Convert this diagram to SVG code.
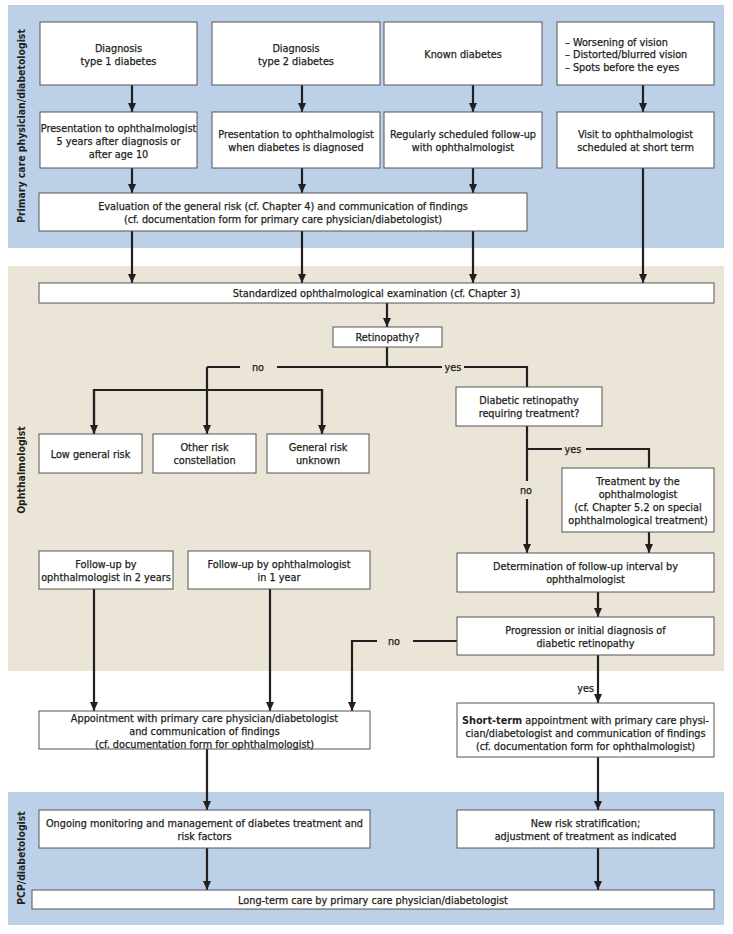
<svg xmlns="http://www.w3.org/2000/svg" width="733" height="934" viewBox="0 0 733 934">
<style>
text{font-family:"DejaVu Sans Condensed","DejaVu Sans",sans-serif;font-stretch:condensed;font-size:10.8px;fill:#231f20;stroke:#231f20;stroke-width:0.25px;text-anchor:middle}
.lane{font-weight:bold;font-size:10.4px;stroke-width:0}
.box{fill:#fff;stroke:#555;stroke-width:1}
.c{fill:none;stroke:#231f20;stroke-width:2.2}
.a{marker-end:url(#ah)}
.l{text-anchor:start}
</style>
<defs>
<marker id="ah" markerUnits="userSpaceOnUse" markerWidth="10" markerHeight="10" refX="9" refY="4" orient="auto">
<path d="M0,0 L9,4 L0,8 z" fill="#231f20"/>
</marker>
</defs>
<rect x="8" y="5" width="716" height="243" fill="#bcd0e8"/>
<rect x="8" y="266" width="716" height="405" fill="#ebe5d8"/>
<rect x="8" y="792" width="716" height="133" fill="#bcd0e8"/>
<text class="lane" transform="translate(25,126) rotate(-90)">Primary care physician/diabetologist</text>
<text class="lane" transform="translate(25,470) rotate(-90)">Ophthalmologist</text>
<text class="lane" transform="translate(25,858) rotate(-90)">PCP/diabetologist</text>

<g id="connectors">
<path class="c a" d="M132,85V112"/>
<path class="c a" d="M302,85V112"/>
<path class="c a" d="M473,85V112"/>
<path class="c a" d="M643,85V112"/>
<path class="c a" d="M132,168V193"/>
<path class="c a" d="M302,168V193"/>
<path class="c a" d="M473,168V193"/>
<path class="c a" d="M132,231V283"/>
<path class="c a" d="M302,231V283"/>
<path class="c a" d="M473,231V283"/>
<path class="c a" d="M643,168V283"/>
<path class="c a" d="M387,303V327"/>
<path class="c" d="M387,347V367"/>
<path class="c" d="M240,367H207"/>
<path class="c" d="M277,367H442"/>
<path class="c" d="M464,367H527V387"/>
<path class="c a" d="M207,367V434"/>
<path class="c" d="M94,434V390H322V434"/>
<path class="c a" d="M94,390V434"/>
<path class="c a" d="M322,390V434"/>
<path class="c" d="M527,426V481"/>
<path class="c a" d="M527,499V553"/>
<path class="c" d="M527,449H562"/>
<path class="c" d="M586,449H649V468"/>
<path class="c a" d="M649,532V553"/>
<path class="c a" d="M598,592V617"/>
<path class="c" d="M457,641H413"/>
<path class="c a" d="M377,641H352V711"/>
<path class="c a" d="M598,655V703"/>
<path class="c a" d="M94,589V711"/>
<path class="c a" d="M270,589V711"/>
<path class="c a" d="M207,749V810"/>
<path class="c a" d="M598,757V810"/>
<path class="c a" d="M207,848V890"/>
<path class="c a" d="M598,848V890"/>
<text x="258" y="371">no</text>
<text x="453" y="371">yes</text>
<text x="573" y="453">yes</text>
<text x="526" y="494">no</text>
<text x="394" y="645">no</text>
<text x="594" y="692" style="text-anchor:end">yes</text>
</g>

<g id="dx1"><rect class="box" x="40" y="22" width="157" height="63"/>
<text x="118.5" y="52">Diagnosis</text><text x="118.5" y="65">type 1 diabetes</text></g>
<g id="dx2"><rect class="box" x="212" y="22" width="168" height="63"/>
<text x="296" y="52">Diagnosis</text><text x="296" y="65">type 2 diabetes</text></g>
<g id="known"><rect class="box" x="384" y="22" width="158" height="63"/>
<text x="463" y="58">Known diabetes</text></g>
<g id="symptoms"><rect class="box" x="557" y="22" width="157" height="63"/>
<text class="l" x="565" y="45.5">– Worsening of vision</text><text class="l" x="565" y="58">– Distorted/blurred vision</text><text class="l" x="565" y="70.5">– Spots before the eyes</text></g>

<g id="pres1"><rect class="box" x="40" y="112" width="157" height="56"/>
<text x="118.5" y="132">Presentation to ophthalmologist</text><text x="118.5" y="145">5 years after diagnosis or</text><text x="118.5" y="158">after age 10</text></g>
<g id="pres2"><rect class="box" x="212" y="112" width="168" height="56"/>
<text x="296" y="138">Presentation to ophthalmologist</text><text x="296" y="151">when diabetes is diagnosed</text></g>
<g id="regular"><rect class="box" x="384" y="112" width="158" height="56"/>
<text x="463" y="138">Regularly scheduled follow-up</text><text x="463" y="151">with ophthalmologist</text></g>
<g id="visit"><rect class="box" x="557" y="112" width="157" height="56"/>
<text x="635.5" y="138">Visit to ophthalmologist</text><text x="635.5" y="151">scheduled at short term</text></g>

<g id="evaluation"><rect class="box" x="39" y="193" width="488" height="38"/>
<text x="283" y="209.5">Evaluation of the general risk (cf. Chapter 4) and communication of findings</text><text x="283" y="222.5">(cf. documentation form for primary care physician/diabetologist)</text></g>

<g id="exam"><rect class="box" x="39" y="283" width="675" height="20"/>
<text x="376.5" y="297">Standardized ophthalmological examination (cf. Chapter 3)</text></g>
<g id="retino"><rect class="box" x="333" y="327" width="109" height="20"/>
<text x="387.5" y="341">Retinopathy?</text></g>

<g id="lowrisk"><rect class="box" x="39" y="434" width="103" height="39"/>
<text x="90.5" y="457.5">Low general risk</text></g>
<g id="otherrisk"><rect class="box" x="153" y="434" width="103" height="39"/>
<text x="204.5" y="451">Other risk</text><text x="204.5" y="464">constellation</text></g>
<g id="unknownrisk"><rect class="box" x="267" y="434" width="102" height="39"/>
<text x="318" y="451">General risk</text><text x="318" y="464">unknown</text></g>

<g id="drtreat"><rect class="box" x="456" y="387" width="146" height="39"/>
<text x="529" y="404">Diabetic retinopathy</text><text x="529" y="417">requiring treatment?</text></g>
<g id="treatment"><rect class="box" x="562" y="468" width="152" height="64"/>
<text x="638" y="484.5">Treatment by the</text><text x="638" y="497.5">ophthalmologist</text><text x="638" y="510.5">(cf. Chapter 5.2 on special</text><text x="638" y="523.5">ophthalmological treatment)</text></g>
<g id="determination"><rect class="box" x="457" y="553" width="257" height="39"/>
<text x="585.5" y="570">Determination of follow-up interval by</text><text x="585.5" y="583">ophthalmologist</text></g>
<g id="progression"><rect class="box" x="457" y="617" width="257" height="38"/>
<text x="585.5" y="633.5">Progression or initial diagnosis of</text><text x="585.5" y="646.5">diabetic retinopathy</text></g>

<g id="fu2"><rect class="box" x="39" y="551" width="134" height="38"/>
<text x="106" y="567.5">Follow-up by</text><text x="106" y="580.5">ophthalmologist in 2 years</text></g>
<g id="fu1"><rect class="box" x="188" y="551" width="182" height="38"/>
<text x="279" y="567.5">Follow-up by ophthalmologist</text><text x="279" y="580.5">in 1 year</text></g>

<g id="appointment"><rect class="box" x="39" y="711" width="331" height="38"/>
<text x="204.5" y="722">Appointment with primary care physician/diabetologist</text><text x="204.5" y="735">and communication of findings</text><text x="204.5" y="748">(cf. documentation form for ophthalmologist)</text></g>
<g id="shortterm"><rect class="box" x="457" y="703" width="257" height="54"/>
<text x="585.5" y="724"><tspan font-weight="bold" stroke-width="0">Short-term</tspan> appointment with primary care physi-</text><text x="585.5" y="737">cian/diabetologist and communication of findings</text><text x="585.5" y="750">(cf. documentation form for ophthalmologist)</text></g>

<g id="ongoing"><rect class="box" x="39" y="810" width="331" height="38"/>
<text x="204.5" y="826.5">Ongoing monitoring and management of diabetes treatment and</text><text x="204.5" y="839.5">risk factors</text></g>
<g id="newrisk"><rect class="box" x="457" y="810" width="257" height="38"/>
<text x="585.5" y="826.5">New risk stratification;</text><text x="585.5" y="839.5">adjustment of treatment as indicated</text></g>
<g id="longterm"><rect class="box" x="32" y="890" width="682" height="19"/>
<text x="373" y="903.5">Long-term care by primary care physician/diabetologist</text></g>
</svg>
